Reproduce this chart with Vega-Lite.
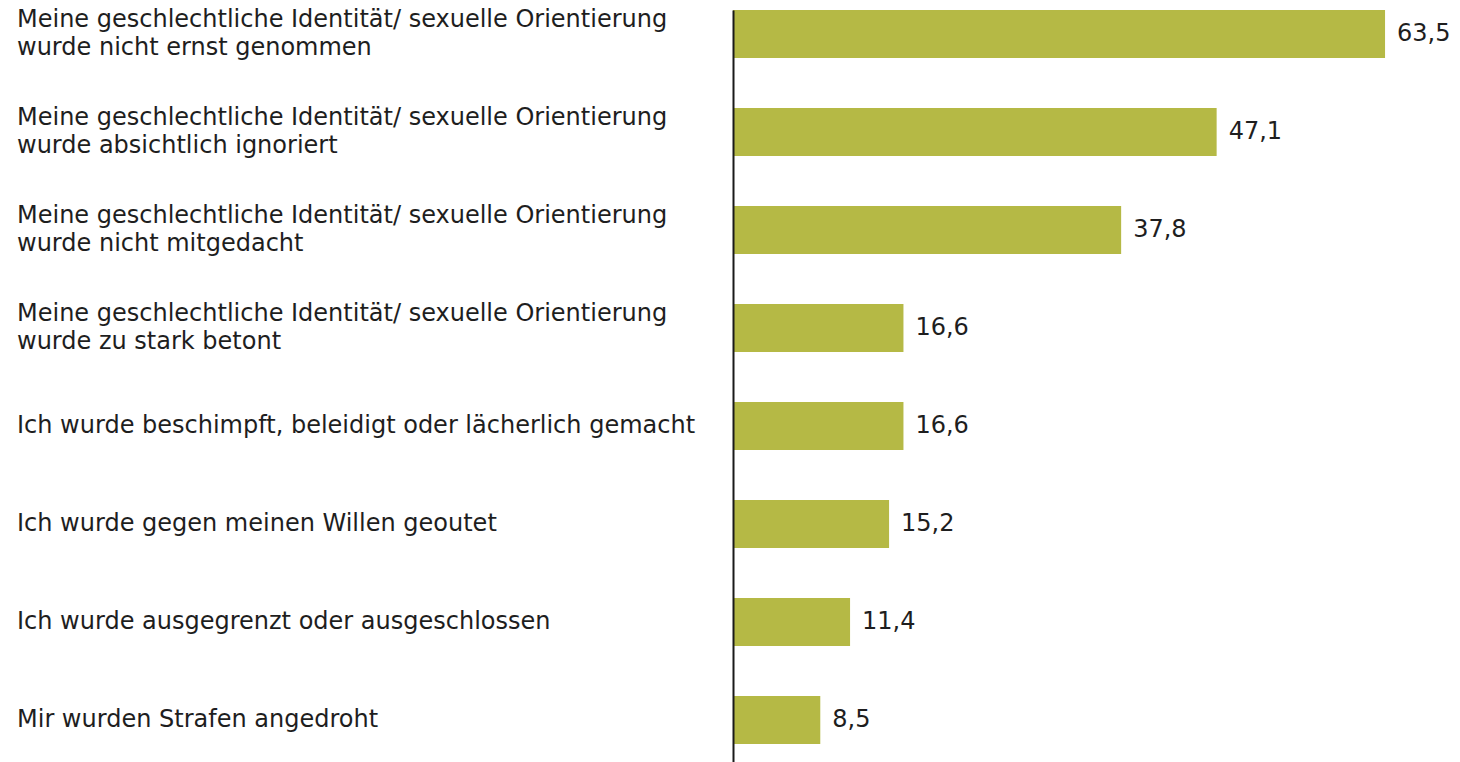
{
  "$schema": "https://vega.github.io/schema/vega-lite/v6.json",
  "autosize": "none",
  "width": 727,
  "height": 752,
  "padding": {"left": 733, "top": 10, "right": 0, "bottom": 0},
  "background": "white",
  "config": {
    "view": {"stroke": null},
    "font": "DejaVu Sans",
    "locale": {"number": {"decimal": ",", "thousands": ".", "grouping": [3], "currency": ["", " €"]}}
  },
  "data": {
    "values": [
      {"item": "Meine geschlechtliche Identität/ sexuelle Orientierung|wurde nicht ernst genommen", "value": 63.5},
      {"item": "Meine geschlechtliche Identität/ sexuelle Orientierung|wurde absichtlich ignoriert", "value": 47.1},
      {"item": "Meine geschlechtliche Identität/ sexuelle Orientierung|wurde nicht mitgedacht", "value": 37.8},
      {"item": "Meine geschlechtliche Identität/ sexuelle Orientierung|wurde zu stark betont", "value": 16.6},
      {"item": "Ich wurde beschimpft, beleidigt oder lächerlich gemacht", "value": 16.6},
      {"item": "Ich wurde gegen meinen Willen geoutet", "value": 15.2},
      {"item": "Ich wurde ausgegrenzt oder ausgeschlossen", "value": 11.4},
      {"item": "Mir wurden Strafen angedroht", "value": 8.5}
    ]
  },
  "layer": [
    {
      "mark": {"type": "bar", "color": "#b5b945"},
      "encoding": {
        "y": {
          "field": "item",
          "type": "nominal",
          "sort": null,
          "scale": {"paddingInner": 0.5102, "paddingOuter": 0.0918, "align": 0},
          "axis": {
            "title": null,
            "ticks": false,
            "labels": false,
            "domainColor": "#1a1a1a",
            "domainWidth": 2,
            "zindex": 1
          }
        },
        "x": {
          "field": "value",
          "type": "quantitative",
          "scale": {"domain": [0, 70.8], "nice": false, "zero": true},
          "axis": null
        }
      }
    },
    {
      "mark": {"type": "text", "align": "left", "baseline": "middle", "dx": 12, "fontSize": 24, "color": "#1e1e1e"},
      "encoding": {
        "y": {"field": "item", "type": "nominal", "sort": null},
        "x": {"field": "value", "type": "quantitative"},
        "text": {"field": "value", "type": "quantitative", "format": ".1f"}
      }
    },
    {
      "mark": {"type": "text", "align": "left", "baseline": "middle", "dx": -716, "fontSize": 24, "color": "#1e1e1e", "lineBreak": "|", "lineHeight": 28},
      "encoding": {
        "y": {"field": "item", "type": "nominal", "sort": null, "bandPosition": 0.2083},
        "x": {"datum": 0},
        "text": {"condition": {"test": "indexof(datum.item, '|') >= 0", "field": "item"}, "value": ""}
      }
    },
    {
      "mark": {"type": "text", "align": "left", "baseline": "middle", "dx": -716, "fontSize": 24, "color": "#1e1e1e"},
      "encoding": {
        "y": {"field": "item", "type": "nominal", "sort": null},
        "x": {"datum": 0},
        "text": {"condition": {"test": "indexof(datum.item, '|') < 0", "field": "item"}, "value": ""}
      }
    }
  ]
}
